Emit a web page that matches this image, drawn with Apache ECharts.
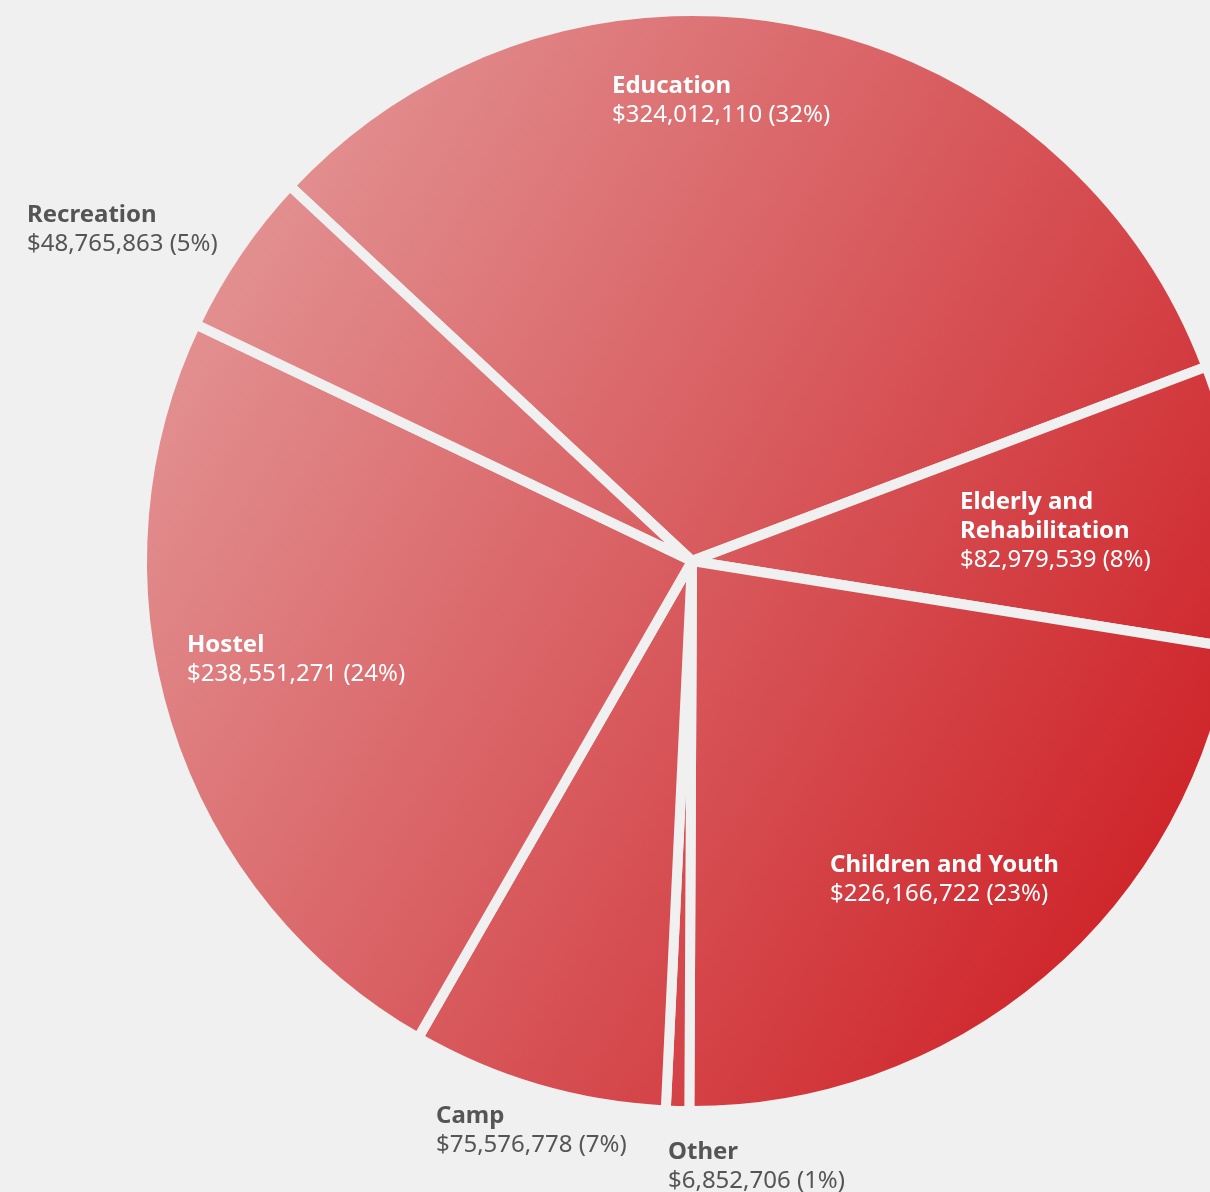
<!DOCTYPE html>
<html><head><meta charset="utf-8">
<script src="https://cdn.jsdelivr.net/npm/echarts@6/dist/echarts.min.js"></script>
<style>html,body{margin:0;padding:0;background:#f0f0f0}#c{width:1210px;height:1192px}</style>
</head><body><div id="c"></div>
<script>
// Data
const categories = ['Education', 'Elderly and\nRehabilitation', 'Children and Youth', 'Other', 'Camp', 'Hostel', 'Recreation'];
const values = [324012110, 82979539, 226166722, 6852706, 75576778, 238551271, 48765863];
const labelInside = [true, true, true, false, false, true, false];

// Layout (label anchors: top-left of each label block, in px)
const labelAnchors = [[612, 72], [960, 488], [830, 851], [668, 1138], [436, 1102], [187, 631], [27, 201]];
const FONT = '"Noto Sans", sans-serif';

const chart = echarts.init(document.getElementById('c'), null, {renderer: 'canvas'});
const grad = new echarts.graphic.LinearGradient(220, 288, 1164, 834, [
  {offset: 0, color: '#e28f90'},
  {offset: 0.5, color: '#d85b5e'},
  {offset: 1, color: '#cf262b'}
], true);

const data = categories.map((c, i) => ({
  name: c,
  value: values[i],
  label: {color: labelInside[i] ? '#ffffff' : '#555555'}
}));

chart.setOption({
  backgroundColor: '#f0f0f0',
  animation: false,
  series: [{
    type: 'pie',
    center: [692, 561],
    radius: [0, 550],
    startAngle: 137,
    clockwise: true,
    percentPrecision: 0,
    avoidLabelOverlap: false,
    data: data,
    itemStyle: {color: grad, borderColor: '#f0f0f0', borderWidth: 10},
    emphasis: {disabled: true},
    labelLine: {show: false},
    label: {
      show: true,
      position: 'inside',
      fontFamily: FONT,
      formatter: p => p.name.split('\n').map(s => '{n|' + s + '}').join('\n') +
        '\n{v|$' + p.value.toLocaleString('en-US') + ' (' + p.percent + '%)}',
      rich: {
        n: {fontFamily: FONT, fontWeight: 'bold', fontSize: 24, lineHeight: 29},
        v: {fontFamily: FONT, fontWeight: 'normal', fontSize: 24, lineHeight: 29}
      }
    },
    labelLayout: p => ({
      x: labelAnchors[p.dataIndex][0],
      y: labelAnchors[p.dataIndex][1],
      align: 'left',
      verticalAlign: 'top',
      hideOverlap: false
    })
  }]
});
</script></body></html>
